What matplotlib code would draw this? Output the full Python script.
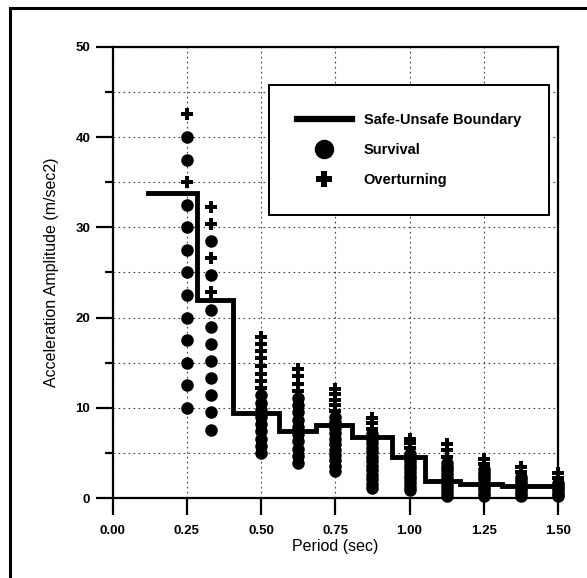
"""Safe-unsafe boundary chart: acceleration amplitude vs period."""
import matplotlib
matplotlib.use('Agg')
import matplotlib.pyplot as plt
from matplotlib.lines import Line2D
from matplotlib.patches import Rectangle

# Test periods (sec) for each column of markers
periods = [0.25, 0.333, 0.5, 0.625, 0.75, 0.875, 1.0, 1.125, 1.25, 1.375, 1.5]

# Amplitudes (m/sec2) where the block survived
survival = [
    [10, 12.5, 15, 17.5, 20, 22.5, 25, 27.5, 30, 32.5, 37.5, 40],
    [7.6, 9.5, 11.4, 13.3, 15.2, 17.1, 19.0, 20.9, 24.7, 28.5],
    [5.0, 5.8, 6.6, 7.4, 8.2, 9.0, 9.8, 10.6, 11.4],
    [3.9, 4.7, 5.5, 6.3, 7.1, 7.9, 8.7, 9.5, 10.3, 11.1],
    [3.0, 3.6, 4.2, 4.8, 5.4, 6.0, 6.6, 7.2, 7.8, 8.4, 9.0],
    [1.1, 1.6, 2.1, 2.6, 3.1, 3.6, 4.1, 4.6, 5.1, 5.6, 6.1, 6.6, 7.1],
    [0.9, 1.3, 1.7, 2.1, 2.5, 2.9, 3.3, 3.7, 4.1, 4.5, 4.9],
    [0.3, 0.7, 1.1, 1.5, 1.9, 2.3, 2.7, 3.1, 3.5, 3.9],
    [0.2, 0.6, 1.0, 1.3, 1.7, 2.1, 2.5, 2.8, 3.2],
    [0.2, 0.6, 0.9, 1.3, 1.7, 2.0, 2.4],
    [0.2, 0.5, 0.8, 1.1, 1.4, 1.7],
]

# Amplitudes (m/sec2) where the block overturned
overturning = [
    [35, 42.5],
    [22.8, 26.6, 30.4, 32.3],
    [12.2, 13.0, 13.8, 14.6, 15.5, 16.3, 17.1, 17.9],
    [11.9, 12.7, 13.5, 14.3],
    [9.7, 10.3, 10.9, 11.5, 12.1],
    [7.7, 8.3, 8.9],
    [5.6, 6.1, 6.6],
    [4.6, 5.3, 6.0],
    [3.8, 4.4],
    [2.9, 3.5],
    [2.3, 2.8],
]

# Safe-unsafe boundary as a staircase: period edges and levels
boundary_edges = [0.12, 0.283, 0.407, 0.56, 0.685, 0.805, 0.94, 1.052, 1.17, 1.31, 1.5]
boundary_levels = [33.8, 21.9, 9.4, 7.4, 8.1, 6.8, 4.6, 1.9, 1.6, 1.35]

plt.rcParams['font.family'] = ['Liberation Sans', 'DejaVu Sans']

fig = plt.figure(figsize=(5.87, 5.78), dpi=100)
ax = fig.add_axes([0.1917, 0.1379, 0.759, 0.7813])

# Outer frame around the whole figure (bottom and right run off the page)
fig.patches.append(Rectangle((10 / 587, -0.1), 1.2, 0.1 + 1 - 8 / 578,
                             transform=fig.transFigure, fill=False,
                             edgecolor='black', linewidth=2.2))

# Boundary line
ax.step(boundary_edges, boundary_levels + [boundary_levels[-1]], where='post',
        color='black', linewidth=3.5, solid_joinstyle='miter', zorder=4)

# Markers, column by column
for period, surv, over in zip(periods, survival, overturning):
    ax.plot([period] * len(surv), surv, linestyle='none', marker='o',
            markersize=8, color='black', clip_on=False, zorder=5)
    ax.plot([period] * len(over), over, linestyle='none', marker='P',
            markersize=8.5, color='black', markeredgewidth=0, clip_on=False, zorder=5)

ax.set_xlim(0, 1.5)
ax.set_ylim(0, 50)
ax.set_xticks([0.0, 0.25, 0.5, 0.75, 1.0, 1.25, 1.5])
ax.set_xticklabels(['0.00', '0.25', '0.50', '0.75', '1.00', '1.25', '1.50'])
ax.set_yticks([0, 10, 20, 30, 40, 50])
ax.set_yticks([5, 15, 25, 35, 45], minor=True)

ax.tick_params(axis='both', which='major', direction='out', width=1.6, labelsize=9.5)
ax.tick_params(axis='x', which='major', length=12, pad=7)
ax.tick_params(axis='y', which='major', length=12, pad=4)
ax.tick_params(axis='y', which='minor', direction='out', length=6, width=1.6)
for lbl in ax.get_xticklabels() + ax.get_yticklabels():
    lbl.set_fontweight('bold')

for spine in ax.spines.values():
    spine.set_linewidth(1.6)

ax.grid(True, which='both', axis='y', color='0.25', linestyle=(0, (1.5, 3)), linewidth=0.8)
ax.grid(True, which='major', axis='x', color='0.25', linestyle=(0, (1.5, 3)), linewidth=0.8)
ax.set_axisbelow(True)

ax.set_xlabel('Period (sec)', fontsize=11.5, labelpad=2)
ax.set_ylabel('Acceleration Amplitude (m/sec2)', fontsize=11.5, labelpad=12)

# Legend with larger markers than the plot
handles = [
    Line2D([], [], color='black', linewidth=4.5),
    Line2D([], [], linestyle='none', marker='o', markersize=13, color='black'),
    Line2D([], [], linestyle='none', marker='P', markersize=12, color='black',
           markeredgewidth=0),
]
labels = ['Safe-Unsafe Boundary', 'Survival', 'Overturning']
leg = ax.legend(handles, labels, loc='upper left',
                bbox_to_anchor=(0.351, 0.627, 0.629, 0.288), mode='expand',
                prop={'weight': 'bold', 'size': 10.5}, fancybox=False,
                framealpha=1, edgecolor='black', borderpad=1.9,
                labelspacing=1.12, handlelength=3.8, handletextpad=0.8,
                borderaxespad=0)
leg.get_frame().set_linewidth(1.4)
leg.set_zorder(6)

fig.savefig('out.png', dpi=100)
